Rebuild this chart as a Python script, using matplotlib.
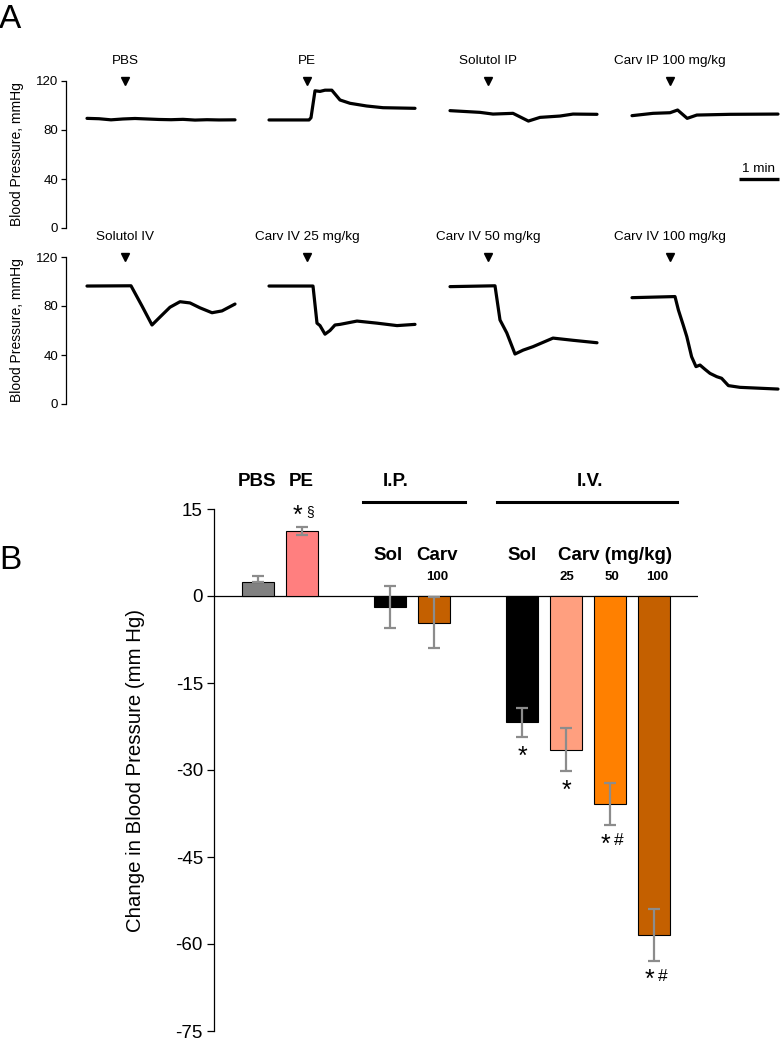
import matplotlib
matplotlib.use('Agg')
import matplotlib.pyplot as plt

plt.rcParams['font.family'] = ['Liberation Sans', 'DejaVu Sans']

W, H = 782, 1042
fig = plt.figure(figsize=(W / 100, H / 100), dpi=100)

# ---------------- Panel A data (time in min from trace start, BP in mmHg) -------------
row1_labels = ['PBS', 'PE', 'Solutol IP', 'Carv IP 100 mg/kg']
row2_labels = ['Solutol IV', 'Carv IV 25 mg/kg', 'Carv IV 50 mg/kg', 'Carv IV 100 mg/kg']
inj_time = 0.95

pbs_t = [0, 0.3, 0.6, 0.9, 1.2, 1.5, 1.8, 2.1, 2.4, 2.7, 3.0, 3.3, 3.7]
pbs_v = [89.5, 89.2, 88.3, 89.0, 89.4, 89.0, 88.6, 88.4, 88.7, 88.1, 88.4, 88.2, 88.3]
pe_t = [0, 1.0, 1.05, 1.15, 1.275, 1.4, 1.57, 1.775, 2.025, 2.44, 2.85, 3.65]
pe_v = [88.2, 88.2, 90, 112, 111.5, 112.5, 112.5, 104.5, 101.8, 99.6, 98.2, 97.7]
solip_t = [0, 0.75, 1.075, 1.575, 1.96, 2.25, 2.75, 3.075, 3.675]
solip_v = [95.8, 94.4, 93.0, 93.6, 87.3, 90.3, 91.4, 93.0, 92.8]
carvip_t = [0, 0.525, 0.95, 1.14, 1.38, 1.62, 2.45, 3.65]
carvip_v = [91.7, 93.6, 94.1, 96.3, 89.5, 92.2, 92.8, 93.0]

soliv_t = [0, 1.1, 1.375, 1.625, 1.825, 2.075, 2.325, 2.575, 2.825, 3.125, 3.375, 3.7]
soliv_v = [96.3, 96.5, 80.0, 64.5, 71.0, 79.0, 83.5, 82.5, 78.5, 74.5, 76.0, 81.6]
c25_t = [0, 1.1, 1.2, 1.275, 1.4, 1.525, 1.65, 1.775, 2.2, 2.7, 3.2, 3.65]
c25_v = [96.3, 96.3, 66.0, 64.0, 57.0, 60.0, 64.5, 65.0, 67.7, 66.0, 64.0, 65.0]
c50_t = [0, 1.125, 1.25, 1.42, 1.625, 1.83, 2.075, 2.575, 3.075, 3.675]
c50_v = [95.8, 96.5, 68.6, 58.0, 40.8, 44.0, 46.8, 53.8, 52.0, 50.0]
c100_t = [0, 1.075, 1.16, 1.28, 1.37, 1.49, 1.6, 1.7, 1.825, 1.95, 2.12, 2.24, 2.41, 2.7, 3.65]
c100_v = [86.8, 87.7, 76.7, 64.5, 55.0, 38.6, 30.5, 31.8, 28.3, 25.0, 22.3, 21.0, 15.0, 13.6, 12.2]

row1 = [(pbs_t, pbs_v), (pe_t, pe_v), (solip_t, solip_v), (carvip_t, carvip_v)]
row2 = [(soliv_t, soliv_v), (c25_t, c25_v), (c50_t, c50_v), (c100_t, c100_v)]
trace_starts = [0.525, 5.075, 9.6, 14.15]
bp_ticks = [0, 40, 80, 120]

# ---------------- Panel B data ----------------
bar_groups = ['PBS', 'PE', 'Sol IP', 'Carv IP 100', 'Sol IV', 'Carv IV 25', 'Carv IV 50', 'Carv IV 100']
bar_means = [2.4, 11.2, -1.9, -4.6, -21.8, -26.5, -35.9, -58.4]
bar_err_up = [1.0, 0.7, 3.6, 4.4, 2.5, 3.7, 3.6, 4.5]
bar_err_low = [0.0, 0.7, 3.6, 4.4, 2.5, 3.7, 3.6, 4.5]
bar_colors = ['#808080', '#FF7F7F', '#000000', '#C46000', '#000000', '#FF9F7F', '#FF8000', '#C46000']
bar_sig = ['', '*§', '', '', '*', '*', '*#', '*#']
bar_x = [0, 1, 3, 4, 6, 7, 8, 9]
b_ticks = [15, 0, -15, -30, -45, -60, -75]


def fx(px):
    return px / W


def fy(py):
    return 1 - py / H


def trace_axes(top_px, bot_px, labels, traces, scalebar=False):
    ax = fig.add_axes([fx(66), fy(bot_px), fx(782 - 66), (bot_px - top_px) / H])
    ax.set_xlim(0, (782 - 66) / 40)
    ax.set_ylim(0, 120)
    for s in ['top', 'right', 'bottom']:
        ax.spines[s].set_visible(False)
    ax.spines['left'].set_linewidth(0.9)
    ax.set_xticks([])
    ax.set_yticks(bp_ticks)
    ax.tick_params(axis='y', length=3.5, width=0.9, labelsize=9.5, pad=2)
    for (t, v), x0, lab in zip(traces, trace_starts, labels):
        ax.plot([x0 + ti for ti in t], v, color='black', lw=2.3, solid_joinstyle='round',
                solid_capstyle='round', clip_on=False)
        xa = x0 + inj_time
        ax.plot([xa], [120], marker='v', color='black', ms=5.5, clip_on=False)
        ax.annotate(lab, (xa, 120), xytext=(0, 10), textcoords='offset points',
                    ha='center', va='bottom', fontsize=9.7, annotation_clip=False)
    fig.text(fx(17), fy((top_px + bot_px) / 2), 'Blood Pressure, mmHg', rotation=90,
             ha='center', va='center', fontsize=10)
    if scalebar:
        ax.plot([16.825, 17.825], [40, 40], color='black', lw=2.4, solid_capstyle='butt',
                clip_on=False)
        ax.text(17.325, 48, '1 min', ha='center', va='center', fontsize=9.7)
    return ax


trace_axes(81, 228, row1_labels, row1, scalebar=True)
trace_axes(257, 404, row2_labels, row2)

fig.text(fx(-1), fy(4), 'A', fontsize=24, ha='left', va='top')
fig.text(fx(-1), fy(545), 'B', fontsize=24, ha='left', va='top')

# ---------------- Panel B ----------------
axb = fig.add_axes([fx(214), fy(1031), fx(698 - 214), (1031 - 509) / H])
axb.set_xlim(-1, 10)
axb.set_ylim(-75, 15)
for s in ['top', 'right', 'bottom']:
    axb.spines[s].set_visible(False)
axb.spines['left'].set_linewidth(0.9)
axb.set_xticks([])
axb.set_yticks(b_ticks)
axb.set_yticklabels([str(t) for t in b_ticks])
axb.tick_params(axis='y', length=5, width=0.9, labelsize=13.5, pad=3)
axb.axhline(0, color='black', lw=0.9, zorder=1)

axb.bar(bar_x, bar_means, width=0.71, color=bar_colors, edgecolor='black', linewidth=0.8, zorder=2)
axb.errorbar(bar_x, bar_means, yerr=[bar_err_low, bar_err_up], fmt='none', ecolor='#8C8C8C',
             elinewidth=1.6, capsize=4.3, capthick=1.6, zorder=3)

for x, m, eu, el, s in zip(bar_x, bar_means, bar_err_up, bar_err_low, bar_sig):
    if not s:
        continue
    if m > 0:
        y, off = m + eu, 11
    else:
        y, off = m - el, -11
    axb.annotate(s[0], (x, y), xytext=(-3 if len(s) > 1 else 0, off - 3), textcoords='offset points',
                 ha='center', va='center', fontsize=18, annotation_clip=False)
    if len(s) > 1:
        axb.annotate(s[1], (x, y), xytext=(6, off), textcoords='offset points',
                     ha='center', va='center', fontsize=12.5 if s[1] == '#' else 10,
                     annotation_clip=False)

axb.set_ylabel('Change in Blood Pressure (mm Hg)', fontsize=14.7, labelpad=22)


def ux(px):
    return (px - 258) / 44


def uy(py):
    return (596 - py) / 87 * 15


bold = dict(ha='center', va='center', fontweight='bold', clip_on=False)
axb.text(ux(257), uy(482), 'PBS', fontsize=13.5, **bold)
axb.text(ux(301), uy(482), 'PE', fontsize=13.5, **bold)
axb.text(ux(396), uy(482), 'I.P.', fontsize=13.5, **bold)
axb.text(ux(590), uy(482), 'I.V.', fontsize=13.5, **bold)
axb.plot([ux(363), ux(465)], [uy(502)] * 2, color='black', lw=2.2, clip_on=False)
axb.plot([ux(497), ux(677)], [uy(502)] * 2, color='black', lw=2.2, clip_on=False)
axb.text(ux(388), uy(556), 'Sol', fontsize=13.5, **bold)
axb.text(ux(437), uy(556), 'Carv', fontsize=13.5, **bold)
axb.text(ux(437), uy(577), '100', fontsize=9.5, **bold)
axb.text(ux(522), uy(556), 'Sol', fontsize=13.5, **bold)
axb.text(ux(614.5), uy(556), 'Carv (mg/kg)', fontsize=13.5, **bold)
axb.text(ux(567), uy(577), '25', fontsize=9.5, **bold)
axb.text(ux(612), uy(577), '50', fontsize=9.5, **bold)
axb.text(ux(657), uy(577), '100', fontsize=9.5, **bold)

fig.savefig('out.png', dpi=100)
